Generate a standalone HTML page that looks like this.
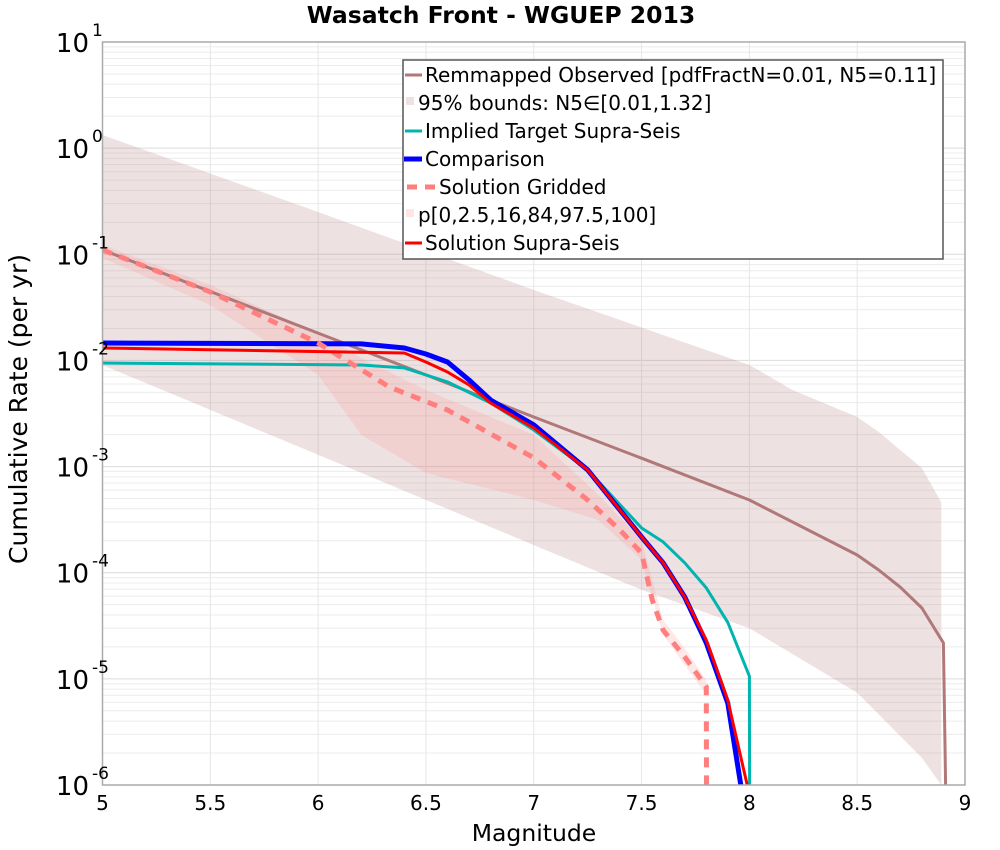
<!DOCTYPE html>
<html><head><meta charset="utf-8">
<style>
body{margin:0;background:#fff;}
svg{display:block;font-family:"DejaVu Sans","Liberation Sans",sans-serif;}
</style></head>
<body>
<svg id="chart" width="1000" height="850" viewBox="0 0 1000 850"></svg>
<script>
const obsMag = [5,6,6.5,7,7.5,8,8.5,8.6,8.7,8.8,8.9,8.91];
const obsRate = [0.11,0.0181,0.0073,0.00293,0.0012,4.84e-4,1.47e-4,1.06e-4,7.3e-5,4.65e-5,2.18e-5,1e-6];
const bndMag = [5,6,7,8,8.2,8.5,8.6,8.7,8.8,8.89];
const bndHi = [1.33,0.25,0.0461,0.00906,0.00526,0.00293,0.00212,0.00143,9.7e-4,4.6e-4];
const bndLoMag = [5,6,7,7.5,8,8.5,8.8,8.89];
const bndLo = [0.00906,0.00129,1.82e-4,6.9e-5,3.0e-5,7.4e-6,1.8e-6,8e-7];
const tgtMag = [5,6.2,6.4,6.6,6.8,7,7.25,7.5,7.6,7.7,7.8,7.9,8,8.001];
const tgtRate = [0.00946,0.00906,0.0085,0.00627,0.00397,0.00221,9.3e-4,2.64e-4,1.95e-4,1.24e-4,7.2e-5,3.4e-5,1.06e-5,1e-6];
const cmpMag = [5,6.2,6.4,6.5,6.6,6.7,6.8,7,7.25,7.5,7.6,7.7,7.8,7.9,7.96];
const cmpRate = [0.0146,0.0143,0.0131,0.0115,0.00966,0.00654,0.00424,0.00247,9.3e-4,2.17e-4,1.24e-4,5.9e-5,2.18e-5,5.9e-6,1e-6];
const grdMag = [5,5.5,6,6.33,6.6,7,7.25,7.4,7.5,7.55,7.6,7.7,7.8,7.801];
const grdRate = [0.11,0.0442,0.0146,0.00562,0.00341,0.00121,4.84e-4,2.52e-4,1.53e-4,5.5e-5,2.88e-5,1.61e-5,8.4e-6,1e-6];
const pctMag = [5,5.5,6,6.2,6.5,7,7.3,7.5,7.6,7.7,7.8];
const pctHi = [0.1225,0.0514,0.0181,0.0105,0.00527,0.00199,5.4e-4,2.03e-4,3.58e-5,1.95e-5,9.7e-6];
const pctLo = [0.0923,0.0333,0.0073,0.00199,8.7e-4,4.84e-4,3.14e-4,1.32e-4,2.59e-5,1.35e-5,7.0e-6];
const supMag = [5,6.4,6.5,6.6,6.7,6.8,7,7.25,7.5,7.6,7.7,7.8,7.9,7.99];
const supRate = [0.0131,0.01175,0.00966,0.00778,0.00587,0.00397,0.00231,9.3e-4,2.17e-4,1.24e-4,5.9e-5,2.32e-5,6.3e-6,1e-6];
const xTicks = [5,5.5,6,6.5,7,7.5,8,8.5,9];
const xTickLabels = ["5","5.5","6","6.5","7","7.5","8","8.5","9"];
const yDecades = [1,0,-1,-2,-3,-4,-5,-6];

const L=102.5,R=965,T=42,B=785;
const X=m=>L+(m-5)/4*(R-L);
const Y=v=>{const lv=Math.log10(Math.max(v,1e-6));return B-(lv+6)/7*(B-T);};
const svg=document.getElementById('chart');
const NS='http://www.w3.org/2000/svg';
function mk(tag,attrs,parent){const e=document.createElementNS(NS,tag);for(const k in attrs)e.setAttribute(k,attrs[k]);(parent||svg).appendChild(e);return e;}
function pts(ms,vs){return ms.map((m,i)=>X(m).toFixed(1)+','+Y(vs[i]).toFixed(1)).join(' ');}
function rpts(ms,vs){const out=[];for(let i=ms.length-1;i>=0;i--)out.push(X(ms[i]).toFixed(1)+','+Y(vs[i]).toFixed(1));return out.join(' ');}

const defs=mk('defs',{});const cp=mk('clipPath',{id:'pc'},defs);mk('rect',{x:L,y:T,width:R-L,height:B-T},cp);

const grid=mk('g',{});


for(let d=-6;d<1;d++){for(let k=1;k<10;k++){const y=Y(k*Math.pow(10,d));mk('line',{x1:L,x2:R,y1:y,y2:y,stroke:k==1?'#dcdcdc':'#ececec','stroke-width':1},grid);}}
xTicks.forEach(t=>{mk('line',{x1:X(t),x2:X(t),y1:T,y2:B,stroke:'#e6e6e6','stroke-width':1},grid);});

const plot=mk('g',{'clip-path':'url(#pc)'});
const band=mk('polygon',{points:pts(bndMag,bndHi)+' '+rpts(bndLoMag,bndLo),fill:'rgba(176,120,125,0.22)'},plot);


const pband=mk('polygon',{points:pts(pctMag,pctHi)+' '+rpts(pctMag,pctLo),fill:'rgba(255,140,140,0.2)'},plot);



function line(ms,vs,attrs,name){const e=mk('polyline',Object.assign({points:pts(ms,vs),fill:'none','stroke-linejoin':'round'},attrs),plot);return e;}
line(obsMag,obsRate,{stroke:'#b07878','stroke-width':3},'remapped-observed-line');
line(tgtMag,tgtRate,{stroke:'#00b4b0','stroke-width':3},'implied-target-line');
line(cmpMag,cmpRate,{stroke:'#0000ff','stroke-width':5},'comparison-line');
line(grdMag,grdRate,{stroke:'#ff7f7f','stroke-width':5,'stroke-dasharray':'10,8','stroke-linejoin':'miter'},'solution-gridded-line');
line(supMag,supRate,{stroke:'#ff0000','stroke-width':3},'solution-supra-seis-line');

const fr=mk('rect',{x:L,y:T,width:R-L,height:B-T,fill:'none',stroke:'#aaa','stroke-width':1.5});



xTicks.forEach((t,i)=>{const tx=mk('text',{x:X(t),y:810,'font-size':20,'text-anchor':'middle',fill:'#000'});tx.textContent=xTickLabels[i];

});
yDecades.forEach(d=>{const y=Y(Math.pow(10,d));const tx=mk('text',{x:89,y:y+10,'font-size':26,'text-anchor':'end',fill:'#000'});tx.textContent='10';


const ex=mk('text',{x:92,y:y-6,'font-size':17,fill:'#000'});ex.textContent=String(d);

});
</script>
<div style="position:absolute;left:0;top:0;width:1000px;height:850px;pointer-events:none;">
<svg width="1000" height="850" style="position:absolute;left:0;top:0;font-family:'DejaVu Sans','Liberation Sans',sans-serif;">
<text x="501" y="23" font-size="23.5" font-weight="bold" text-anchor="middle">Wasatch Front - WGUEP 2013</text>
<text x="534" y="841" font-size="23.5" text-anchor="middle">Magnitude</text>
<text transform="translate(27,409) rotate(-90)" font-size="25" text-anchor="middle">Cumulative Rate (per yr)</text>
<g font-size="20">
<rect x="403" y="60" width="540" height="199" fill="#fff" stroke="#555" stroke-width="1.5"/>
<line x1="405" y1="75" x2="422" y2="75" stroke="#b07878" stroke-width="3"/>
<text x="425" y="82">Remmapped Observed [pdfFractN=0.01, N5=0.11]</text>
<rect x="406" y="97" width="8" height="8" fill="rgba(176,120,125,0.22)"/>
<text x="418" y="110">95% bounds: N5∈[0.01,1.32]</text>
<line x1="405" y1="131" x2="422" y2="131" stroke="#00b4b0" stroke-width="3"/>
<text x="425" y="138">Implied Target Supra-Seis</text>
<line x1="404" y1="159" x2="422" y2="159" stroke="#0000ff" stroke-width="5"/>
<text x="425" y="166">Comparison</text>
<line x1="407" y1="187" x2="436" y2="187" stroke="#ff7f7f" stroke-width="5" stroke-dasharray="10,8"/>
<text x="439" y="194">Solution Gridded</text>
<rect x="406" y="209" width="8" height="8" fill="rgba(255,140,140,0.22)"/>
<text x="418" y="222">p[0,2.5,16,84,97.5,100]</text>
<line x1="405" y1="243" x2="422" y2="243" stroke="#ff0000" stroke-width="3"/>
<text x="425" y="250">Solution Supra-Seis</text>
</g>
</svg>
</div>
</body></html>
